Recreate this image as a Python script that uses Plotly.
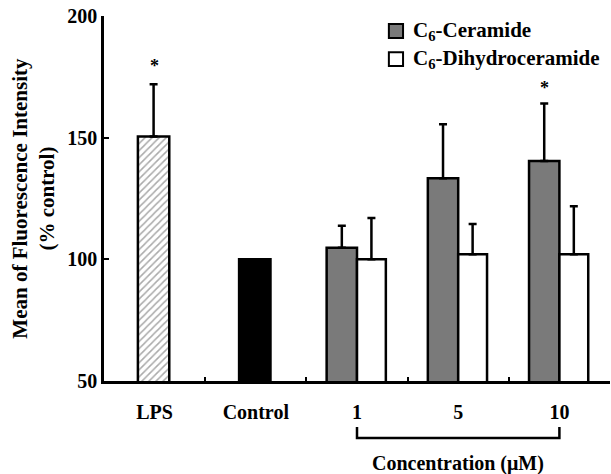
import plotly.graph_objects as go

# ---- data ----
single_cats = ["LPS", "Control"]
single_vals = [150.5, 100.0]
single_err = [21.5, 0.0]

conc_cats = ["1", "5", "10"]
ceramide_vals = [104.8, 133.3, 140.4]
ceramide_err = [9.0, 22.2, 23.6]
dihydro_vals = [100.0, 102.1, 102.1]
dihydro_err = [17.0, 12.4, 19.7]

all_cats = ["LPS", "Control", "1", "5", "10"]
yticks = [50, 100, 150, 200]
series_names = ["C<sub>6</sub>-Ceramide", "C<sub>6</sub>-Dihydroceramide"]
series_colors = ["#7a7a7a", "white"]

FONT = "Liberation Serif"
LW = 2.5

fig = go.Figure()

# LPS (hatched)
fig.add_trace(go.Bar(
    x=[single_cats[0]], y=[single_vals[0]], width=0.31, offset=-0.165,
    marker=dict(color="white", line=dict(color="black", width=LW),
                pattern=dict(shape="/", fgcolor="#555555", bgcolor="white", size=5, solidity=0.3)),
    error_y=dict(type="data", symmetric=False, array=[single_err[0]], arrayminus=[0],
                 color="black", thickness=LW, width=4),
    showlegend=False))

# Control (black)
fig.add_trace(go.Bar(
    x=[single_cats[1]], y=[single_vals[1]], width=0.31, offset=-0.165,
    marker=dict(color="black", line=dict(color="black", width=LW)),
    showlegend=False))

fig.add_trace(go.Bar(
    x=conc_cats, y=ceramide_vals, width=0.3, offset=-0.3,
    name=series_names[0], showlegend=False,
    marker=dict(color=series_colors[0], line=dict(color="black", width=LW)),
    error_y=dict(type="data", symmetric=False, array=ceramide_err, arrayminus=[0, 0, 0],
                 color="black", thickness=LW, width=4)))

fig.add_trace(go.Bar(
    x=conc_cats, y=dihydro_vals, width=0.285, offset=0.0,
    name=series_names[1], showlegend=False,
    marker=dict(color=series_colors[1], line=dict(color="black", width=LW)),
    error_y=dict(type="data", symmetric=False, array=dihydro_err, arrayminus=[0, 0, 0],
                 color="black", thickness=LW, width=4)))

# significance stars (x given as category index on the category axis)
idx = {c: i for i, c in enumerate(all_cats)}
fig.add_annotation(x=idx["LPS"], y=single_vals[0] + single_err[0], text="<b>*</b>", showarrow=False,
                   yshift=18, font=dict(family=FONT, size=18, color="black"))
fig.add_annotation(x=idx["10"] - 0.15, y=ceramide_vals[2] + ceramide_err[2], text="<b>*</b>",
                   showarrow=False, yshift=16, font=dict(family=FONT, size=18, color="black"))

# concentration bracket
x0, x1 = idx["1"], idx["10"]
fig.add_shape(type="path", xref="x", yref="paper",
              path=f"M {x0},-0.126 L {x0},-0.156 L {x1},-0.156 L {x1},-0.126",
              line=dict(color="black", width=LW))
fig.add_annotation(x=idx["5"], y=-0.225, xref="x", yref="paper", text="<b>Concentration (μM)</b>",
                   showarrow=False, yanchor="middle",
                   font=dict(family=FONT, size=20, color="black"))

# y-axis title
fig.add_annotation(x=-0.14, y=0.5, xref="paper", yref="paper", textangle=-90,
                   text="<b>Mean of Fluorescence Intensity<br>(% control)</b>",
                   showarrow=False, xanchor="center", yanchor="middle",
                   font=dict(family=FONT, size=21, color="black"))

# legend (drawn manually)
leg_rows = [(0.978, 0.940, 0.959), (0.901, 0.863, 0.882)]
for (yt, yb, yc), name, col in zip(leg_rows, series_names, series_colors):
    fig.add_shape(type="rect", xref="paper", yref="paper", x0=0.563, x1=0.591, y0=yb, y1=yt,
                  fillcolor=col, line=dict(color="black", width=2))
    fig.add_annotation(x=0.607, y=yc, xref="paper", yref="paper", text="<b>" + name + "</b>",
                       showarrow=False, xanchor="left", yanchor="middle",
                       font=dict(family=FONT, size=21, color="black"))

fig.update_layout(
    width=611, height=474,
    margin=dict(l=104, r=1, t=16, b=93),
    paper_bgcolor="white", plot_bgcolor="white",
    barmode="overlay",
    showlegend=False,
    font=dict(family=FONT, color="black"),
    xaxis=dict(type="category", categoryorder="array", categoryarray=all_cats,
               range=[-0.5, 4.5], tickmode="array", tickvals=all_cats,
               ticktext=["<b>" + c + "</b>" for c in all_cats],
               tickfont=dict(family=FONT, size=20, color="black"),
               showline=True, linecolor="black", linewidth=LW,
               ticks="inside", tickson="boundaries", ticklen=4, tickwidth=2, tickcolor="black",
               ticklabelstandoff=11,
               showgrid=False, zeroline=False, fixedrange=True),
    yaxis=dict(range=[50, 200], tickmode="array", tickvals=yticks,
               ticktext=["<b>%d</b>" % v for v in yticks],
               tickfont=dict(family=FONT, size=20, color="black"),
               showline=True, linecolor="black", linewidth=LW,
               ticks="inside", ticklen=5, tickwidth=2, tickcolor="black",
               showgrid=False, zeroline=False, fixedrange=True),
)

fig.write_html("out.html")
